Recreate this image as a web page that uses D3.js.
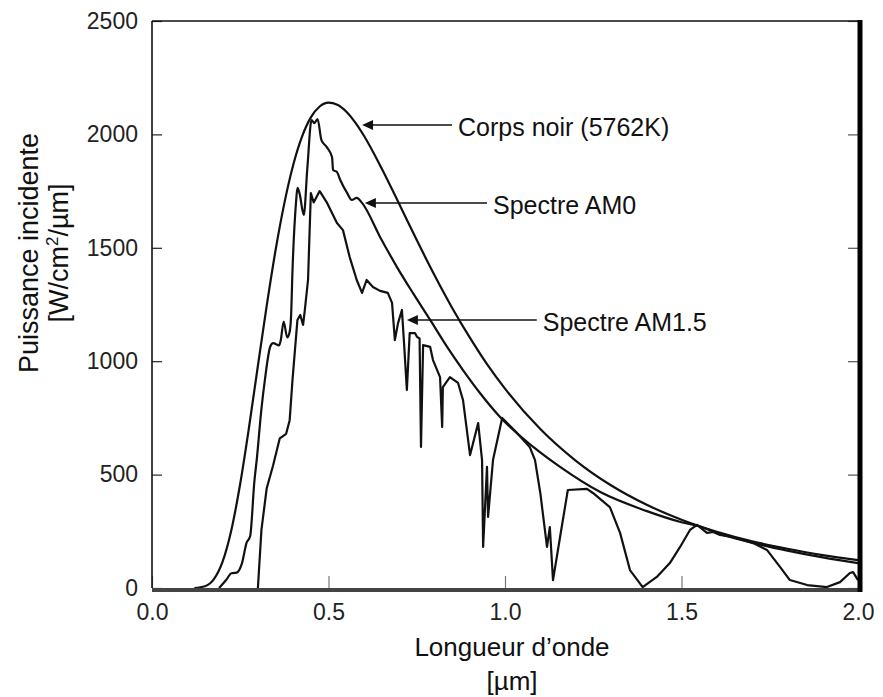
<!DOCTYPE html>
<html><head><meta charset="utf-8">
<script src="https://cdn.jsdelivr.net/npm/d3@7"></script>
<style>
html,body{margin:0;padding:0;background:#fff;}
svg{display:block;font-family:"Liberation Sans",Arial,sans-serif;}
</style></head>
<body>
<svg id="chart" width="883" height="697"></svg>
<script>
// ---- data ----
const xTicks = [0, 0.5, 1.0, 1.5, 2.0];
const yTicks = [0, 500, 1000, 1500, 2000, 2500];

// Blackbody 5762 K  [wavelength µm, power]
const blackBody = [[0.12,0],[0.15,8],[0.175,38],[0.2,116],[0.225,257],[0.25,461],[0.275,710],[0.3,980],[0.325,1245],[0.35,1489],[0.375,1697],[0.4,1865],[0.425,1990],[0.45,2075],[0.475,2123],[0.5,2140],[0.525,2131],[0.55,2101],[0.575,2054],[0.6,1995],[0.65,1852],[0.7,1694],[0.75,1534],[0.8,1380],[0.85,1236],[0.9,1105],[0.95,985],[1.0,879],[1.1,701],[1.2,562],[1.3,453],[1.4,368],[1.5,301],[1.6,248],[1.7,206],[1.8,173],[1.9,145],[2.0,123]];

// AM0 spectrum
const am0 = [[0.19,0],[0.21,35],[0.225,65],[0.24,68],[0.255,110],[0.268,200],[0.278,228],[0.29,470],[0.297,570],[0.31,790],[0.32,920],[0.335,1065],[0.343,1080],[0.36,1070],[0.365,1095],[0.373,1175],[0.383,1105],[0.39,1130],[0.394,1200],[0.398,1400],[0.408,1700],[0.412,1764],[0.418,1740],[0.43,1645],[0.44,1850],[0.452,2063],[0.46,2050],[0.469,2068],[0.48,1975],[0.495,1944],[0.51,1900],[0.513,1843],[0.524,1834],[0.533,1800],[0.553,1741],[0.566,1711],[0.58,1720],[0.595,1698],[0.646,1548],[0.694,1415],[0.739,1301],[0.788,1182],[0.836,1063],[0.881,961],[0.929,860],[0.986,754],[1.08,622],[1.156,534],[1.27,423],[1.4,340],[1.5,290],[1.55,272],[1.6,243],[1.7,200],[1.8,165],[1.9,135],[2.0,110]];

// AM1.5 spectrum
const am15 = [[0.3,0],[0.31,256],[0.325,440],[0.343,540],[0.362,660],[0.38,680],[0.39,740],[0.398,917],[0.412,1182],[0.42,1204],[0.428,1160],[0.433,1226],[0.442,1358],[0.45,1741],[0.458,1700],[0.475,1750],[0.496,1698],[0.524,1609],[0.541,1578],[0.56,1459],[0.58,1358],[0.595,1301],[0.608,1358],[0.626,1327],[0.646,1310],[0.668,1301],[0.68,1257],[0.688,1093],[0.697,1168],[0.708,1226],[0.714,1080],[0.722,873],[0.73,1124],[0.745,1124],[0.751,1107],[0.758,1100],[0.762,622],[0.768,1071],[0.788,1063],[0.796,1005],[0.816,930],[0.822,710],[0.824,886],[0.844,930],[0.867,904],[0.881,829],[0.901,586],[0.924,727],[0.935,564],[0.938,181],[0.949,534],[0.952,313],[0.966,564],[0.992,750],[1.03,690],[1.07,622],[1.085,564],[1.1,419],[1.119,181],[1.127,269],[1.136,35],[1.156,225],[1.178,432],[1.232,437],[1.249,419],[1.297,357],[1.326,243],[1.354,79],[1.39,4],[1.43,49],[1.467,110],[1.496,181],[1.524,256],[1.544,278],[1.572,243],[1.59,247],[1.609,234],[1.646,225],[1.703,198],[1.742,168],[1.779,93],[1.807,35],[1.856,13],[1.912,4],[1.949,26],[1.977,66],[1.986,70],[2.0,35]];

// annotations: label, arrow tip [λ, power], arrow tail λ
const annLabels = ["Corps noir (5762K)", "Spectre AM0", "Spectre AM1.5"];
const annTips = [[0.595,2041],[0.603,1697],[0.722,1182]];
const annTails = [0.85, 0.949, 1.09];

// ---- drawing ----
const svg = d3.select("#chart");
const x = d3.scaleLinear().domain([0, 2]).range([152, 858]);
const y = d3.scaleLinear().domain([0, 2500]).range([588, 21]);

const fontTick = 23;

// y axis left
const gy = svg.append("g").attr("transform", `translate(${x(0)},0)`)
  .call(d3.axisLeft(y).tickValues(yTicks).tickSizeInner(-10).tickSizeOuter(0).tickPadding(14).tickFormat(d3.format("d")));
gy.select(".domain").remove();
gy.selectAll("line").attr("stroke", "#222").attr("stroke-width", 1.2);
gy.selectAll("text").attr("font-size", fontTick).attr("fill", "#222").attr("font-family", "Liberation Sans, Arial, sans-serif");

// right ticks
const gr = svg.append("g").attr("transform", `translate(${x(2)},0)`)
  .call(d3.axisRight(y).tickValues(yTicks).tickSizeInner(-10).tickSizeOuter(0).tickFormat(""));
gr.select(".domain").remove();
gr.selectAll("line").attr("stroke", "#555").attr("stroke-width", 1.2);

// x axis
const gx = svg.append("g").attr("transform", `translate(0,${y(0)})`)
  .call(d3.axisBottom(x).tickValues(xTicks).tickSizeInner(-12).tickSizeOuter(0).tickPadding(16).tickFormat(d3.format(".1f")));
gx.select(".domain").remove();
gx.selectAll("line").attr("stroke", "#777").attr("stroke-width", 1.2);
gx.selectAll("text").attr("font-size", fontTick).attr("fill", "#222").attr("font-family", "Liberation Sans, Arial, sans-serif");

// frame
svg.append("line").attr("x1", x(0)).attr("x2", x(2)).attr("y1", y(2500)).attr("y2", y(2500)).attr("stroke", "#111").attr("stroke-width", 1.6);
svg.append("line").attr("x1", x(0)).attr("x2", x(0)).attr("y1", y(2500)).attr("y2", y(0)).attr("stroke", "#111").attr("stroke-width", 1.6);

// curves
const lineSmooth = d3.line().x(d => x(d[0])).y(d => y(d[1])).curve(d3.curveMonotoneX);
const lineSharp = d3.line().x(d => x(d[0])).y(d => y(d[1]));
svg.append("path").attr("d", lineSmooth(blackBody)).attr("fill", "none").attr("stroke", "#111").attr("stroke-width", 2.2);
svg.append("path").attr("d", lineSmooth(am0)).attr("fill", "none").attr("stroke", "#111").attr("stroke-width", 2.2).attr("stroke-linejoin", "round");
svg.append("path").attr("d", lineSharp(am15)).attr("fill", "none").attr("stroke", "#111").attr("stroke-width", 2.2).attr("stroke-linejoin", "round");

// thick bottom and right borders
svg.append("line").attr("x1", x(0)).attr("x2", x(2) + 3).attr("y1", y(0) + 2).attr("y2", y(0) + 2).attr("stroke", "#444").attr("stroke-width", 4);
svg.append("line").attr("x1", x(2) + 2).attr("x2", x(2) + 2).attr("y1", y(2500) - 1).attr("y2", y(0) + 4).attr("stroke", "#000").attr("stroke-width", 5);

// annotations
annLabels.forEach((lab, i) => {
  const tx = x(annTips[i][0]), ty = y(annTips[i][1]);
  const ex = x(annTails[i]);
  svg.append("line").attr("x1", ex).attr("y1", ty).attr("x2", tx + 8).attr("y2", ty)
    .attr("stroke", "#111").attr("stroke-width", 1.5);
  svg.append("path").attr("d", `M${tx},${ty} L${tx + 11},${ty - 5} L${tx + 11},${ty + 5} Z`).attr("fill", "#111");
  svg.append("text").attr("x", ex + 6).attr("y", ty + 2).attr("dy", "0.35em")
    .attr("font-size", 25).attr("fill", "#111").text(lab);
});

// axis titles
const xt = svg.append("text").attr("text-anchor", "middle").attr("font-size", 26).attr("fill", "#111");
xt.append("tspan").attr("x", 512).attr("y", 656).text("Longueur d\u2019onde");
xt.append("tspan").attr("x", 512).attr("y", 690).text("[\u00b5m]");

const yt = svg.append("text").attr("text-anchor", "middle").attr("font-size", 27).attr("fill", "#111")
  .attr("transform", "translate(0,253) rotate(-90)");
yt.append("tspan").attr("x", 0).attr("y", 38).text("Puissance incidente");
const yt2 = yt.append("tspan").attr("x", 0).attr("y", 68);
yt2.append("tspan").text("[W/cm");
yt2.append("tspan").attr("dy", -10).attr("font-size", 17).text("2");
yt2.append("tspan").attr("dy", 10).text("/\u00b5m]");
</script>
</body></html>
